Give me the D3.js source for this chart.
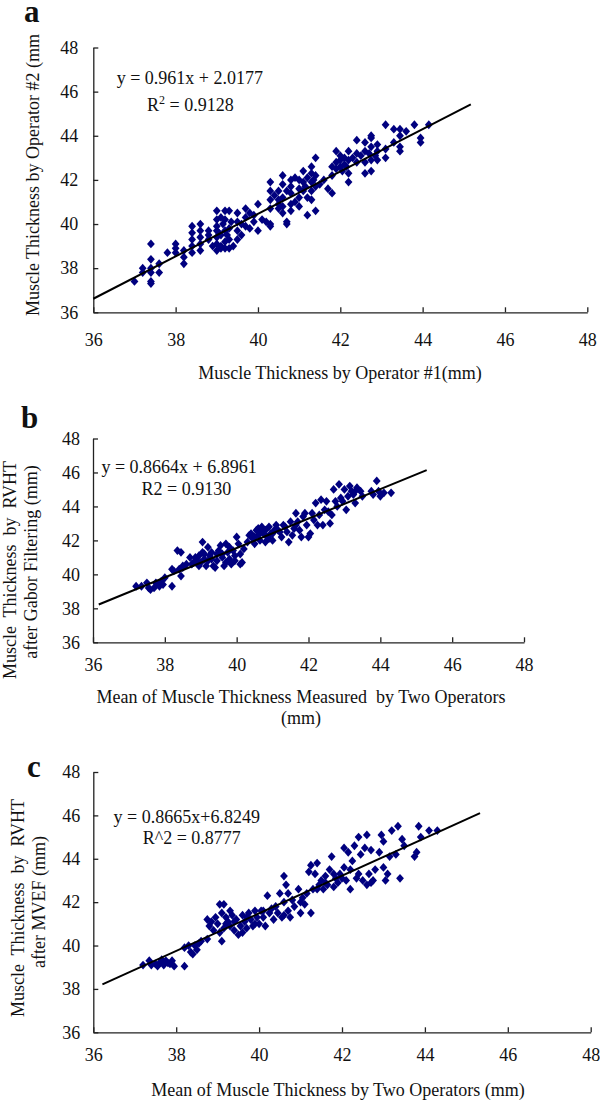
<!DOCTYPE html>
<html><head><meta charset="utf-8">
<script src="https://cdn.jsdelivr.net/npm/d3@7"></script>
<style>
body{margin:0;background:#fff}
svg{display:block}
text{font-family:"Liberation Serif","Times New Roman",serif;fill:#111}
</style>
</head><body><svg id="chart" width="600" height="1101"></svg>
<script>
// ---------- data ----------
const tickValues = [36, 38, 40, 42, 44, 46, 48];
const panelLetters = ["a", "b", "c"];
const equations = ["y = 0.961x + 2.0177", "y = 0.8664x + 6.8961", "y = 0.8665x+6.8249"];
const r2Labels = ["R", "R2 = 0.9130", "R^2 = 0.8777"];
const slopes = [0.961, 0.8664, 0.8665];
const intercepts = [2.0177, 6.8961, 6.8249];
const lineFrom = [36.0, 36.16, 36.22];
const lineTo = [45.17, 45.29, 45.33];
const xTitlesA = ["Muscle Thickness by Operator #1(mm)"];
const xTitlesB = ["Mean of Muscle Thickness Measured  by Two Operators", "(mm)"];
const xTitlesC = ["Mean of Muscle Thickness by Two Operators (mm)"];
const yTitlesA = ["Muscle Thickness by Operator #2 (mm"];
const yTitlesB = ["Muscle  Thickness  by  RVHT", "after Gabor Filtering (mm)"];
const yTitlesC = ["Muscle  Thickness  by  RVHT", "after MVEF (mm)"];

const pointsA = [
[37.0,37.4],[37.2,37.8],[37.2,38.0],[37.4,39.1],[37.4,38.4],[37.4,38.0],[37.4,37.8],[37.4,37.4],[37.4,37.3],
[37.6,37.8],[37.6,38.2],[37.8,38.7],[38.0,39.1],[38.0,38.9],[38.0,38.7],[38.2,38.2],[38.2,38.5],[38.2,38.8],
[38.4,39.9],[38.4,39.6],[38.4,39.3],[38.4,39.0],[38.4,38.7],[38.6,40.0],[38.6,39.7],[38.6,39.4],[38.6,39.1],[38.6,38.8],
[38.8,39.7],[38.8,39.3],[38.8,39.5],[39.0,40.6],[39.0,40.2],[39.0,39.7],[39.0,39.4],[39.0,39.1],[39.0,38.8],[39.0,39.9],
[39.1,40.3],[39.1,39.0],[39.1,38.9],[39.1,39.5],[39.2,40.6],[39.2,40.2],[39.2,39.7],[39.2,39.2],[39.2,38.9],
[39.3,40.6],[39.3,39.8],[39.3,38.9],[39.3,39.3],[39.5,40.5],[39.5,40.1],[39.5,39.7],[39.5,39.3],
[39.7,40.7],[39.7,40.3],[39.7,39.9],[39.8,40.5],[39.8,39.8],[39.9,40.4],[39.9,40.1],[40.0,40.9],[40.0,39.7],
[40.1,40.2],[40.2,40.1],[40.3,40.0],[40.3,39.9],[40.3,41.9],[40.3,41.5],[40.3,41.1],[40.3,40.7],
[40.5,41.5],[40.5,41.1],[40.5,40.7],[40.5,40.9],[40.6,42.2],[40.6,41.8],[40.6,41.2],[40.6,40.8],[40.6,40.5],[40.7,40.0],[40.7,40.1],
[40.8,42.0],[40.8,41.4],[40.8,40.9],[40.8,40.6],[40.8,41.7],[41.0,42.0],[41.0,41.6],[41.0,41.2],[41.0,40.8],
[41.1,42.4],[41.1,41.9],[41.1,41.5],[41.2,40.4],[41.2,41.2],[41.3,42.6],[41.3,42.3],[41.3,41.9],[41.3,41.5],[41.3,41.1],
[41.4,43.0],[41.4,42.2],[41.4,40.6],[41.4,41.7],[41.6,42.0],[41.7,41.6],[41.8,42.6],[41.8,42.2],[41.8,41.4],
[41.9,43.3],[41.9,42.8],[41.9,42.5],[42.0,43.1],[42.0,42.9],[42.0,42.6],[42.1,43.0],[42.1,42.7],
[42.2,43.3],[42.2,42.9],[42.2,42.3],[42.2,41.9],[42.4,43.8],[42.4,43.2],[42.4,42.8],
[42.6,43.7],[42.6,43.3],[42.6,42.8],[42.6,42.3],[42.75,43.9],[42.75,43.5],[42.75,42.9],[42.75,42.4],[42.75,44.0],
[42.9,43.6],[42.9,43.3],[42.9,42.9],[43.1,44.5],[43.1,43.4],[43.1,43.0],[43.3,44.3],[43.3,43.7],
[43.45,44.3],[43.45,44.0],[43.45,43.5],[43.45,43.3],[43.6,44.2],[43.8,44.5],[43.95,43.9],[43.95,43.7],[44.15,44.5],
[38.9,39.0],[39.05,39.6],[39.15,40.0],[39.25,39.5],[39.35,40.1],[39.4,39.0],[39.6,40.0],[39.6,39.5],
[40.4,41.3],[40.7,41.5],[40.9,41.0],[40.9,42.1],[41.15,41.7],[41.2,42.1],[41.35,42.0],[41.5,41.8],
[42.05,42.4],[42.15,42.6],[42.3,43.0],[42.5,43.1],[42.7,43.2],[42.85,43.1]
];

const pointsB = [
[37.2,39.3],[37.35,39.3],[37.5,39.5],[37.55,39.2],[37.6,39.1],[37.7,39.2],[37.75,39.5],[37.85,39.3],[37.9,39.6],[37.95,39.4],[38.0,39.8],
[38.2,40.3],[38.25,40.2],[38.2,39.3],[38.35,41.4],[38.45,41.3],[38.4,40.3],[38.45,39.9],[38.5,40.5],[38.5,40.4],
[38.7,41.0],[38.75,40.6],[38.8,40.7],[38.85,41.0],[38.9,40.8],[38.95,41.1],[39.0,40.7],[39.05,41.9],[39.05,41.3],[39.1,40.9],[39.15,40.5],
[39.2,41.6],[39.25,41.1],[39.3,40.9],[39.35,40.5],[39.4,40.4],[39.45,40.8],[39.5,41.4],[39.55,41.7],[39.6,41.0],[39.65,40.5],
[39.7,41.8],[39.75,41.3],[39.8,40.9],[39.85,40.6],[39.9,41.4],[39.95,40.8],[40.0,42.2],[40.05,41.8],[40.1,41.2],[40.15,40.7],[40.2,41.5],
[39.1,41.2],[39.3,41.3],[39.6,41.2],[39.8,41.6],[40.1,40.6],
[40.4,42.4],[40.45,42.1],[40.5,41.8],[40.55,42.6],[40.6,42.3],[40.65,42.0],[40.7,42.8],[40.75,42.4],[40.8,41.9],[40.85,42.2],[40.9,42.8],[40.95,42.4],[41.0,42.0],
[40.5,42.2],[40.7,42.5],[40.9,42.1],[41.05,42.6],
[41.1,42.9],[41.15,42.6],[41.25,42.2],[41.3,42.9],[41.4,42.5],[41.45,41.9],[41.5,43.1],[41.55,42.3],[41.6,42.7],
[41.65,43.6],[41.7,43.1],[41.75,42.6],[41.8,42.2],[41.85,43.4],[41.9,43.6],[41.95,42.9],
[42.0,42.2],[42.05,42.4],[42.1,43.6],[42.2,44.2],[42.25,42.9],[42.3,43.5],[42.35,44.4],[42.4,42.9],[42.45,43.8],[42.5,44.3],
[42.6,43.0],[42.65,43.5],[42.7,45.0],[42.8,44.0],[42.85,45.3],[42.9,44.5],[42.95,44.3],[43.0,45.0],[43.05,43.8],
[43.1,44.6],[43.15,45.2],[43.2,44.9],[43.25,44.7],[43.3,44.2],[43.35,45.1],[43.45,44.9],[43.5,44.6],
[43.75,44.9],[43.8,44.7],[43.9,45.5],[43.95,44.9],[44.0,44.6],[44.1,44.8],[44.3,44.8],
[38.6,40.6],[38.95,40.5],[39.2,40.8],[39.45,41.2],[39.7,40.7],[39.95,41.1],[40.3,41.9],[40.35,42.3],
[40.6,42.7],[40.8,42.6],[41.0,42.4],[41.2,42.5],[41.35,42.8],[41.65,42.9],[42.15,43.2],[42.55,43.7],[42.75,44.3],[43.3,44.9]
];

const pointsC = [
[37.2,39.1],[37.35,39.3],[37.4,39.1],[37.5,39.15],[37.55,39.05],[37.6,39.2],[37.65,39.35],[37.7,39.1],[37.75,39.3],[37.8,39.2],[37.85,39.15],[37.9,39.3],[37.95,39.05],
[38.2,39.05],[38.2,39.9],[38.3,40.0],[38.35,39.7],[38.4,39.6],[38.45,40.0],[38.5,39.8],[38.55,40.1],[38.6,40.2],
[38.75,40.3],[38.75,41.2],[38.8,40.9],[38.85,41.1],[38.9,40.7],[38.95,41.3],
[39.0,41.0],[39.05,40.6],[39.05,41.9],[39.1,40.2],[39.15,41.9],[39.15,40.8],[39.2,41.3],[39.25,41.1],[39.3,40.9],[39.35,41.4],[39.4,40.7],[39.45,41.2],
[39.5,40.5],[39.55,40.9],[39.6,41.4],[39.65,41.1],[39.7,40.8],[39.75,41.5],[39.8,41.2],[39.85,40.9],[39.9,41.6],[39.95,41.3],
[40.0,41.0],[40.05,41.6],[40.1,41.3],[40.15,40.9],[40.2,42.3],[40.25,41.5],[40.3,41.7],[40.35,41.2],[40.45,41.5],[40.5,42.4],[40.55,41.3],
[40.6,43.2],[40.6,42.0],[40.65,42.8],[40.7,41.6],[40.75,41.3],[40.8,42.1],[40.85,41.8],[40.95,42.6],[41.0,41.5],[41.05,42.2],[41.1,41.9],[41.15,42.4],
[41.2,43.4],[41.25,43.7],[41.25,41.5],[41.3,42.6],[41.35,43.3],[41.4,43.8],[41.45,42.8],[41.5,43.0],[41.55,42.6],[41.6,43.2],[41.65,42.8],
[41.7,43.5],[41.75,44.1],[41.8,42.7],[41.85,43.1],[41.9,42.9],[41.95,43.3],
[42.05,44.5],[42.05,43.6],[42.1,43.0],[42.15,44.3],[42.2,42.6],[42.25,43.9],[42.3,44.6],[42.35,43.1],[42.4,45.0],[42.45,44.2],[42.5,43.0],
[42.55,44.5],[42.6,45.1],[42.6,42.8],[42.65,43.3],[42.7,44.4],[42.75,43.0],[42.8,43.5],[42.9,44.3],[42.95,45.1],[43.0,44.8],[43.05,43.0],
[43.1,43.3],[43.15,44.1],[43.2,45.3],[43.3,44.2],[43.35,45.5],[43.4,43.1],[43.45,44.9],[43.5,44.6],
[43.75,44.1],[43.8,44.3],[43.85,45.5],[43.9,45.0],[44.1,45.3],[44.3,45.3],
[39.1,41.5],[39.2,41.0],[39.3,41.6],[39.4,41.1],[39.6,40.6],[39.7,41.3],[39.9,41.0],[40.1,41.6],[40.4,41.8],[40.6,41.4],
[40.7,42.4],[41.0,42.0],[41.4,42.6],[41.6,42.9],[41.8,43.3],[42.0,43.1],[42.2,43.5],[42.4,43.3],[42.7,42.9],[43.0,43.6]
];

// ---------- layout ----------
const svg = d3.select("#chart");
const FONT = 18;
const panels = [
  {pts: pointsA, xr: [93.3, 587.3], yr: [312.3, 47.5], xPad: 21, yPad: 15,
   letter: [24, 22], eq: [116.7, 84], r2: [147, 111],
   xTitles: xTitlesA, xTitlePos: [340, 379, 21],
   yTitles: yTitlesA, yTitlePos: [[32.5, 175]]},
  {pts: pointsB, xr: [93, 524], yr: [642.3, 438.5], xPad: 16, yPad: 13,
   letter: [21, 428], eq: [101.4, 473], r2: [141.6, 494.5],
   xTitles: xTitlesB, xTitlePos: [301, 703, 21],
   yTitles: yTitlesB, yTitlePos: [[9.6, 570], [30.6, 562]]},
  {pts: pointsC, xr: [93.3, 590.7], yr: [1032.3, 772], xPad: 16, yPad: 13,
   letter: [27, 777], eq: [113.6, 823], r2: [142.7, 844],
   xTitles: xTitlesC, xTitlePos: [338, 1096, 21],
   yTitles: yTitlesC, yTitlePos: [[17.2, 908], [38.3, 902]]}
];

const diamond = "M0,-4.4L3.9,0L0,4.4L-3.9,0Z";

panels.forEach((p, i) => {
  const x = d3.scaleLinear().domain([36, 48]).range(p.xr);
  const y = d3.scaleLinear().domain([36, 48]).range(p.yr);
  const g = svg.append("g");

  // axes
  const xa = g.append("g").attr("transform", `translate(0,${p.yr[0]})`)
    .call(d3.axisBottom(x).tickValues(tickValues).tickFormat(d3.format("d"))
      .tickSizeInner(-5).tickSizeOuter(0).tickPadding(p.xPad));
  const ya = g.append("g").attr("transform", `translate(${p.xr[0]},0)`)
    .call(d3.axisLeft(y).tickValues(tickValues).tickFormat(d3.format("d"))
      .tickSizeInner(-5).tickSizeOuter(0).tickPadding(p.yPad));
  [xa, ya].forEach(a => {
    a.selectAll("path,line").attr("stroke", "#222").attr("stroke-width", 1.3);
    a.selectAll("text").attr("font-size", FONT).attr("fill", "#111")
      .style("font-family", '"Liberation Serif","Times New Roman",serif');
  });

  // points
  g.append("g").selectAll("path").data(p.pts).join("path")
    .attr("d", diamond)
    .attr("transform", d => `translate(${x(d[0])},${y(d[1])})`)
    .attr("fill", "#00007f");

  // regression line
  g.append("line")
    .attr("x1", x(lineFrom[i])).attr("y1", y(slopes[i] * lineFrom[i] + intercepts[i]))
    .attr("x2", x(lineTo[i])).attr("y2", y(slopes[i] * lineTo[i] + intercepts[i]))
    .attr("stroke", "#000").attr("stroke-width", 2);

  // panel letter
  g.append("text").attr("x", p.letter[0]).attr("y", p.letter[1])
    .attr("font-size", 31).attr("font-weight", "bold").text(panelLetters[i]);

  // equation
  g.append("text").attr("x", p.eq[0]).attr("y", p.eq[1]).attr("font-size", FONT)
    .style("white-space", "pre").text(equations[i]);
  const r = g.append("text").attr("x", p.r2[0]).attr("y", p.r2[1]).attr("font-size", FONT)
    .style("white-space", "pre");
  if (i === 0) {
    r.append("tspan").text("R");
    r.append("tspan").attr("dy", -7).attr("font-size", 12).text("2");
    r.append("tspan").attr("dy", 7).text(" = 0.9128");
  } else {
    r.text(r2Labels[i]);
  }

  // x titles
  p.xTitles.forEach((t, k) => {
    g.append("text").attr("x", p.xTitlePos[0]).attr("y", p.xTitlePos[1] + k * p.xTitlePos[2])
      .attr("text-anchor", "middle").attr("font-size", FONT)
      .style("white-space", "pre").text(t);
  });
  // y titles
  p.yTitles.forEach((t, k) => {
    const [cx, cy] = p.yTitlePos[k];
    g.append("text").attr("transform", `translate(${cx},${cy}) rotate(-90)`)
      .attr("text-anchor", "middle").attr("dy", "0.35em").attr("font-size", FONT)
      .style("white-space", "pre").text(t);
  });
});
</script>
</body></html>
